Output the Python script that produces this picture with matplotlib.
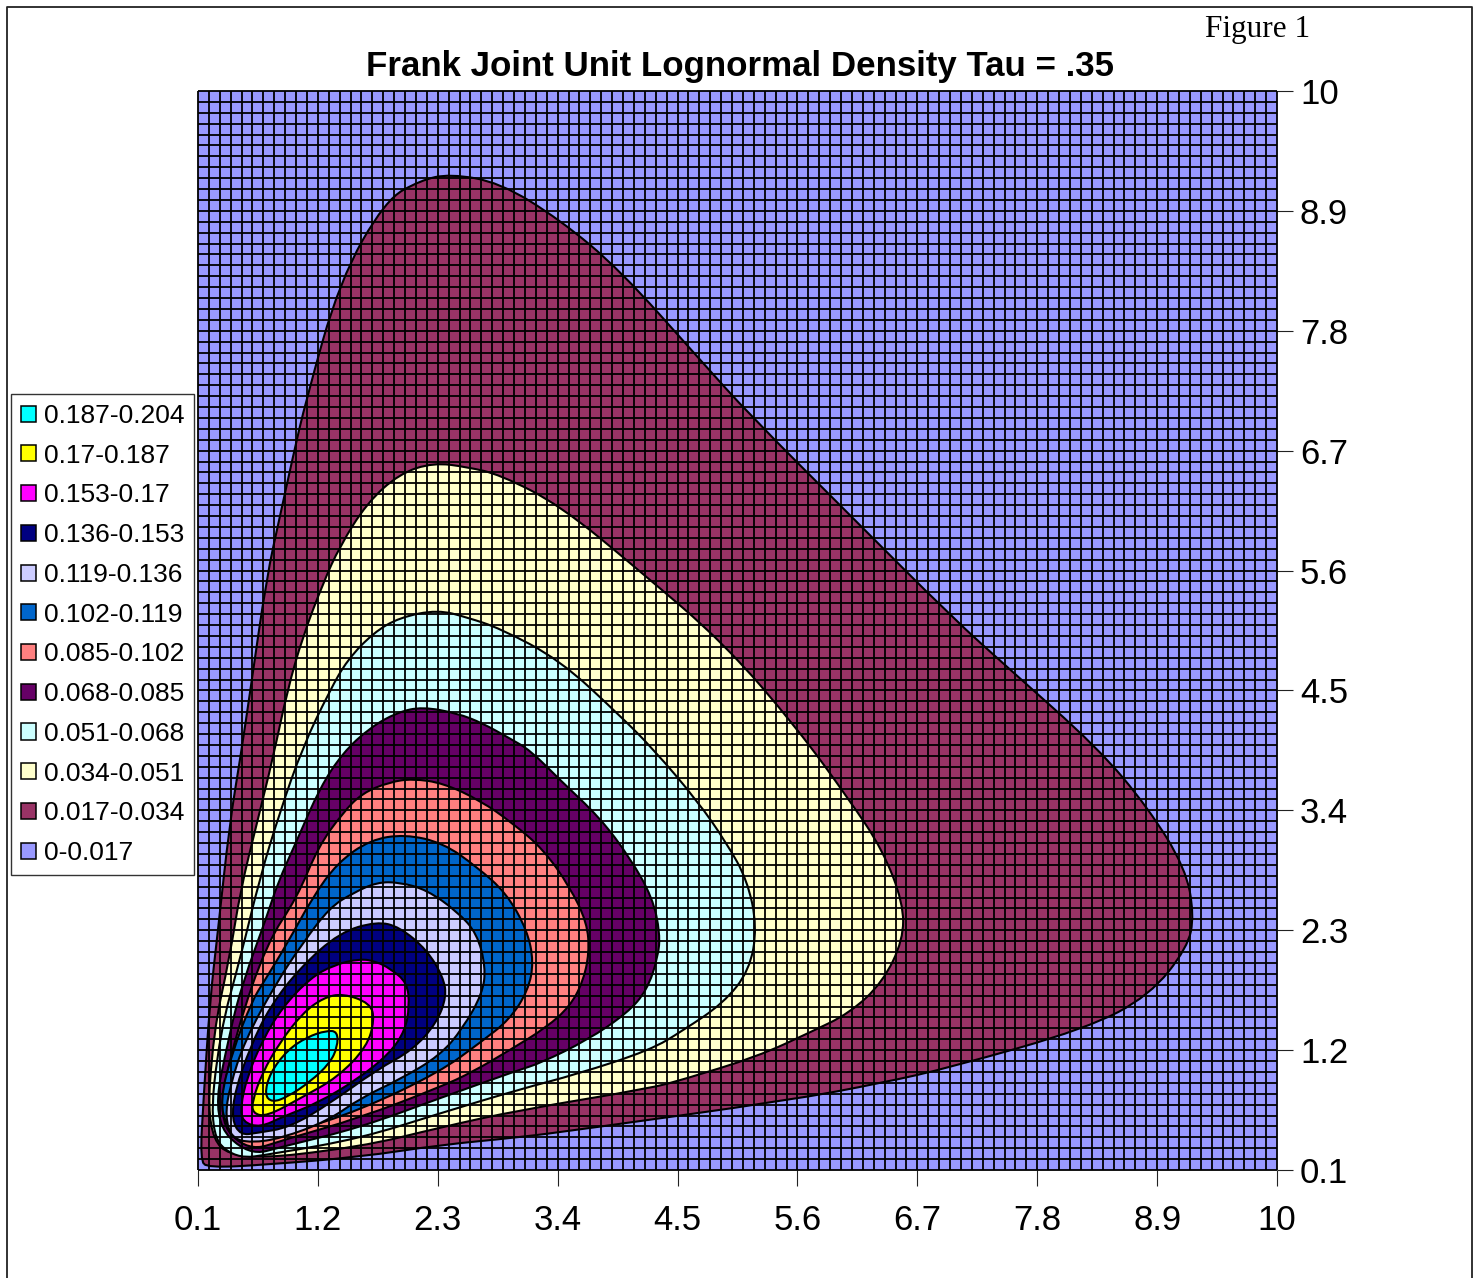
from __future__ import annotations

import matplotlib

matplotlib.use("Agg")
import matplotlib.pyplot as plt
import numpy as np
from matplotlib.lines import Line2D
from matplotlib.patches import Patch, PathPatch
from matplotlib.path import Path

TITLE = "Frank Joint Unit Lognormal Density Tau = .35"
TICKS = [0.1, 1.2, 2.3, 3.4, 4.5, 5.6, 6.7, 7.8, 8.9, 10]
TICK_LABELS = ["0.1", "1.2", "2.3", "3.4", "4.5", "5.6", "6.7", "7.8", "8.9", "10"]

# legend order, top to bottom
BAND_LABELS = [
    "0.187-0.204", "0.17-0.187", "0.153-0.17", "0.136-0.153", "0.119-0.136", "0.102-0.119",
    "0.085-0.102", "0.068-0.085", "0.051-0.068", "0.034-0.051", "0.017-0.034", "0-0.017",
]
BAND_COLORS = [
    "#00FFFF", "#FFFF00", "#FF00FF", "#000080", "#CCCCFF", "#0066CC",
    "#FF8080", "#660066", "#CCFFFF", "#FFFFCC", "#993366", "#9999FF",
]

# contour outlines, (x, y) in axis units
C_017 = [(0.12, 0.19), (0.15, 0.74), (0.21, 1.66), (0.28, 2.27), (0.39, 3.28), (0.49, 3.89), (0.58, 4.5),
         (0.73, 5.54), (0.85, 6.09), (0.97, 6.64), (1.09, 7.16), (1.40, 8.26), (1.82, 9.0), (2.14, 9.18),
         (2.41, 9.24), (2.87, 9.16), (3.42, 8.82), (3.97, 8.36), (4.71, 7.53), (5.16, 7.03), (6.08, 6.11),
         (7.03, 5.16), (7.53, 4.71), (8.36, 3.97), (8.82, 3.42), (9.16, 2.87), (9.24, 2.44), (9.18, 2.14),
         (8.83, 1.7), (8.26, 1.40), (7.0, 1.04), (6.38, 0.9), (5.53, 0.74), (3.59, 0.47), (3.05, 0.4),
         (2.32, 0.33), (1.59, 0.22), (0.74, 0.15), (0.19, 0.12)]
C_034 = [(0.18, 0.44), (0.24, 1.36), (0.39, 2.05), (0.49, 2.67), (0.64, 3.28), (0.79, 3.89), (0.92, 4.5),
         (1.06, 4.99), (1.25, 5.49), (1.4, 5.82), (1.65, 6.22), (1.95, 6.49), (2.26, 6.59), (2.57, 6.55),
         (2.87, 6.48), (3.42, 6.2), (4.15, 5.6), (4.93, 4.93), (5.6, 4.15), (6.08, 3.49), (6.38, 3.04),
         (6.57, 2.55), (6.57, 2.21), (6.38, 1.82), (6.08, 1.54), (5.71, 1.36), (5.23, 1.14), (4.55, 0.93),
         (4.25, 0.85), (3.05, 0.65), (2.32, 0.49), (1.59, 0.31), (0.44, 0.18)]
C_051 = [(0.2, 0.44), (0.3, 1.36), (0.49, 2.05), (0.67, 2.79), (0.85, 3.38), (1.06, 3.98), (1.31, 4.5),
         (1.47, 4.78), (1.71, 5.03), (1.95, 5.17), (2.3, 5.24), (2.57, 5.17), (2.87, 5.07), (3.42, 4.78),
         (3.97, 4.27), (4.27, 3.97), (4.68, 3.49), (4.95, 3.1), (5.14, 2.76), (5.23, 2.33), (5.16, 1.93),
         (4.92, 1.63), (4.55, 1.38), (4.25, 1.2), (3.58, 0.98), (3.05, 0.84), (2.32, 0.62), (1.59, 0.39),
         (0.8, 0.25), (0.44, 0.2)]
C_068 = [(0.23, 0.56), (0.39, 1.36), (0.51, 1.82), (0.73, 2.42), (0.83, 2.73), (1.01, 3.13), (1.22, 3.61),
         (1.43, 3.93), (1.68, 4.16), (1.93, 4.3), (2.16, 4.35), (2.48, 4.29), (2.71, 4.2), (2.96, 4.06),
         (3.15, 3.95), (3.42, 3.68), (3.79, 3.33), (4.06, 2.97), (4.27, 2.6), (4.34, 2.27), (4.32, 2.05),
         (4.22, 1.75), (4.04, 1.54), (3.67, 1.29), (3.24, 1.08), (3.05, 1.02), (2.32, 0.76), (1.59, 0.49),
         (0.9, 0.32), (0.56, 0.23)]
C_085 = [(0.27, 0.56), (0.45, 1.36), (0.73, 2.18), (1.01, 2.6), (1.2, 3.06), (1.43, 3.38), (1.61, 3.56),
         (1.86, 3.66), (2.07, 3.69), (2.35, 3.65), (2.69, 3.49), (2.99, 3.28), (3.27, 3.04), (3.51, 2.7),
         (3.67, 2.37), (3.69, 2.09), (3.63, 1.82), (3.51, 1.6), (3.3, 1.41), (2.96, 1.2), (2.62, 1.0),
         (2.32, 0.86), (1.59, 0.58), (0.9, 0.38), (0.56, 0.27)]
C_102 = [(0.3, 0.74), (0.42, 1.2), (0.6, 1.66), (0.7, 1.82), (0.92, 2.18), (1.15, 2.6), (1.38, 2.92),
         (1.68, 3.13), (2.0, 3.18), (2.35, 3.1), (2.66, 2.88), (2.93, 2.64), (3.12, 2.3), (3.18, 2.01),
         (3.13, 1.75), (2.96, 1.48), (2.69, 1.27), (2.32, 1.0), (1.59, 0.65), (0.94, 0.44), (0.58, 0.36),
         (0.37, 0.47)]
C_119 = [(0.35, 0.59), (0.39, 0.86), (0.53, 1.29), (0.82, 1.82), (1.06, 2.18), (1.31, 2.51), (1.52, 2.64),
         (1.74, 2.74), (1.95, 2.74), (2.2, 2.67), (2.48, 2.47), (2.66, 2.27), (2.74, 1.96), (2.71, 1.72),
         (2.53, 1.4), (2.32, 1.15), (1.95, 0.93), (1.59, 0.76), (1.29, 0.55), (0.86, 0.39), (0.59, 0.35),
         (0.41, 0.39)]
C_136 = [(0.41, 0.56), (0.44, 0.83), (0.58, 1.23), (0.76, 1.6), (1.04, 1.96), (1.4, 2.28), (1.74, 2.38),
         (1.95, 2.33), (2.2, 2.12), (2.35, 1.87), (2.38, 1.69), (2.29, 1.45), (2.07, 1.2), (1.74, 1.02),
         (1.31, 0.71), (0.94, 0.49), (0.64, 0.44), (0.49, 0.42)]
C_153 = [(0.49, 0.68), (0.55, 0.95), (0.69, 1.29), (0.88, 1.6), (1.13, 1.86), (1.34, 1.98), (1.59, 2.04),
         (1.74, 2.01), (1.86, 1.95), (2.02, 1.82), (2.04, 1.6), (2.0, 1.38), (1.86, 1.17), (1.56, 0.93),
         (1.19, 0.71), (0.88, 0.59), (0.67, 0.49), (0.51, 0.54)]
C_170 = [(0.6, 0.74), (0.69, 0.99), (0.85, 1.27), (1.06, 1.54), (1.25, 1.68), (1.43, 1.72), (1.68, 1.63),
         (1.72, 1.48), (1.65, 1.23), (1.38, 0.95), (1.06, 0.77), (0.73, 0.59), (0.6, 0.62)]
C_187 = [(0.71, 0.79), (0.76, 0.99), (0.92, 1.2), (1.1, 1.32), (1.28, 1.38), (1.38, 1.37), (1.38, 1.23),
         (1.31, 1.08), (1.13, 0.91), (0.92, 0.77), (0.78, 0.72)]

# outer band first so the inner ones paint over it
CONTOURS = [C_017, C_034, C_051, C_068, C_085, C_102, C_119, C_136, C_153, C_170, C_187]
CONTOUR_COLORS = BAND_COLORS[-2::-1]


def smooth_patch(points, color):
    """Closed outline through the midpoints, the read points act as bezier controls."""
    pts = np.array(points)
    mids = (pts + np.roll(pts, -1, axis=0)) / 2
    verts = [mids[-1]]
    codes = [Path.MOVETO]
    for ctrl, mid in zip(pts, mids):
        verts += [ctrl, mid]
        codes += [Path.CURVE3, Path.CURVE3]
    return PathPatch(Path(verts, codes), facecolor=color, edgecolor="black", linewidth=1.5, zorder=2)


W, H = 1478, 1278
fig = plt.figure(figsize=(W / 100, H / 100), dpi=100, facecolor="white")
ax = fig.add_axes([198 / W, (H - 1170) / H, 1079 / W, 1079 / H])
ax.set_facecolor(BAND_COLORS[-1])
ax.set_xlim(0.1, 10)
ax.set_ylim(0.1, 10)

for points, color in zip(CONTOURS, CONTOUR_COLORS):
    ax.add_patch(smooth_patch(points, color))

# the 0.1 mesh sits on top of the filled bands
mesh = np.linspace(0.1, 10, 100)
ax.vlines(mesh, 0.1, 10, color="black", linewidth=1.3, zorder=3, clip_on=False)
ax.hlines(mesh, 0.1, 10, color="black", linewidth=1.3, zorder=3, clip_on=False)

for spine in ax.spines.values():
    spine.set_visible(False)
ax.set_xticks(TICKS, TICK_LABELS)
ax.set_yticks(TICKS, TICK_LABELS)
ax.yaxis.tick_right()
ax.tick_params(axis="x", length=11.5, width=0.8, color="#222222", labelsize=25, pad=13)
ax.tick_params(axis="y", length=11.5, width=0.8, color="#222222", labelsize=25, pad=5)
for label in ax.get_xticklabels() + ax.get_yticklabels():
    label.set_fontfamily("Liberation Sans")
ax.set_title(TITLE, fontsize=25.1, fontweight="bold", family="Liberation Sans", pad=11, x=0.502)

handles = [Patch(facecolor=c, edgecolor="black", linewidth=1.1) for c in BAND_COLORS]
fig.legend(
    handles=handles,
    labels=BAND_LABELS,
    loc="upper left",
    bbox_to_anchor=(11 / W, 1 - 394 / H),
    prop={"family": "Liberation Sans", "size": 19},
    frameon=True,
    fancybox=False,
    framealpha=1,
    edgecolor="#333333",
    borderaxespad=0,
    borderpad=0.38,
    labelspacing=0.596,
    handlelength=0.56,
    handleheight=0.56,
    handletextpad=0.3,
)

fig.text(1205 / W, 1 - 29 / H, "Figure 1", family="Liberation Serif", fontsize=22.5, va="center", ha="left")

# page frame, open at the bottom
fig.add_artist(Line2D([7 / W, 7 / W, 1472 / W, 1472 / W], [0, 1 - 7 / H, 1 - 7 / H, 0], color="#222222", linewidth=1.3))

fig.savefig("out.png", dpi=100)
